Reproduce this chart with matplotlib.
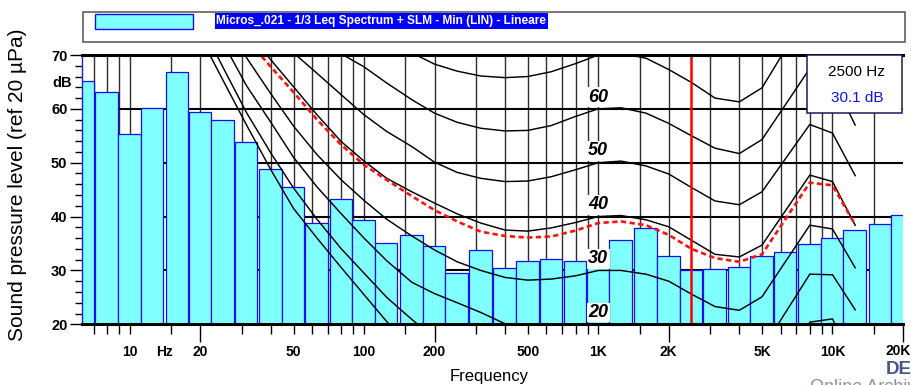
import matplotlib
matplotlib.use("Agg")
import matplotlib.pyplot as plt
from matplotlib.patches import Rectangle
from matplotlib import font_manager as fm

# ---------------- data ----------------
band_centers = [6.3, 8, 10, 12.5, 16, 20, 25, 31.5, 40, 50, 63, 80, 100, 125, 160,
                200, 250, 315, 400, 500, 630, 800, 1000, 1250, 1600, 2000, 2500,
                3150, 4000, 5000, 6300, 8000, 10000, 12500, 16000, 20000]
band_levels = [65.2, 63.2, 55.3, 60.2, 66.9, 59.5, 58.0, 53.9, 48.9, 45.4, 38.8, 43.3,
               39.4, 35.1, 36.5, 34.5, 29.5, 33.8, 30.4, 31.8, 32.1, 31.8, 32.0, 35.7,
               37.9, 32.7, 30.1, 30.3, 30.7, 32.6, 33.4, 35.0, 36.0, 37.6, 38.6, 40.3]

contour_freqs = [20, 25, 31.5, 40, 50, 63, 80, 100, 125, 160, 200, 250, 315, 400, 500,
                 630, 800, 1000, 1250, 1600, 2000, 2500, 3150, 4000, 5000, 8000, 10000, 12500]
phon_70 = [105, 100, 95, 90, 86, 82, 78.5, 75.5, 72.8, 70.4, 68.3, 67.0, 66.1, 65.8, 66.0,
           66.9, 68.4, 70.0, 70.3, 69.4, 67.3, 64.9, 62.0, 61.3, 63.9, 78.5, 77.0, 68.0]
phon_60 = [93, 89, 85, 81, 77, 73.5, 70.2, 67.8, 64.8, 61.7, 59.2, 57.5, 56.4, 55.9, 56.0,
           56.9, 58.6, 60.0, 60.2, 59.2, 57.3, 55.0, 52.7, 51.7, 54.3, 67.5, 65.5, 57.0]
phon_50 = [87, 83, 79, 74.5, 70.4, 66.6, 62.6, 58.9, 55.8, 53.0, 50.1, 48.2, 47.1, 46.5, 46.6,
           47.4, 48.7, 50.0, 50.3, 49.4, 47.9, 45.4, 42.9, 42.2, 44.6, 57.1, 55.5, 47.6]
phon_40 = [83, 79, 74.5, 69.1, 64.1, 58.9, 53.9, 50.3, 47.1, 44.6, 42.5, 40.5, 38.8, 37.5, 37.3,
           37.9, 38.9, 40.0, 40.2, 39.4, 38.1, 35.6, 33.0, 32.5, 34.7, 47.7, 46.5, 38.4]
phon_30 = [83, 76.5, 69.5, 62.8, 56.8, 51.5, 46.8, 43.0, 39.5, 36.4, 33.8, 31.6, 30.0, 28.7, 28.2,
           28.4, 29.0, 30.0, 30.0, 29.3, 28.0, 25.6, 23.3, 22.6, 25.1, 38.4, 37.7, 30.5]
phon_20 = [80, 72.3, 64.3, 57.5, 51.0, 45.5, 40.5, 36.0, 31.8, 27.8, 25.7, 24.0, 22.2, 20.1, 19.5,
           19.3, 19.5, 20.0, 20.0, 19.4, 18.0, 15.8, 13.5, 12.8, 15.3, 29.3, 29.2, 22.7]
phon_10 = [76, 67.7, 59.3, 51.8, 45.3, 39.5, 34.0, 29.5, 25.0, 20.9, 17.5, 14.5, 12.5, 10.8, 10.0,
           9.8, 9.8, 10.0, 10.0, 9.5, 8.0, 5.8, 3.5, 2.8, 5.3, 20.4, 21.0, 12.4]
phon_0 = [73.4, 65.3, 57.0, 48.7, 41.5, 36.0, 30.5, 25.5, 20.5, 16.0, 12.5, 9.5, 7.0, 5.0, 3.5,
          2.5, 1.5, 0.0, 0.0, -1.0, -2.0, -4.0, -6.0, -6.5, -4.0, 11.0, 12.0, 5.0]
level_red = [82, 77.5, 73.0, 67.8, 63.1, 58.0, 53.3, 49.6, 46.8, 43.8, 41.2, 39.1, 37.2, 36.4, 36.1,
             36.3, 37.4, 38.8, 39.1, 38.4, 36.6, 34.0, 32.3, 31.6, 33.0, 46.3, 45.8, 38.5]

contour_label_values = [60, 50, 40, 30, 20]
grid_freqs = [7, 8, 9, 10, 15, 20, 30, 40, 50, 60, 70, 80, 90, 100, 150, 200, 300, 400, 500,
              600, 700, 800, 900, 1000, 1500, 2000, 3000, 4000, 5000, 6000, 7000, 8000, 9000,
              10000, 15000]
long_tick_freqs = [20, 200, 2000, 20000]
xlabel_freqs = [10, 20, 50, 100, 200, 500, 1000, 2000, 5000, 10000]
xlabel_texts = ["10", "20", "50", "100", "200", "500", "1K", "2K", "5K", "10K"]
last_xlabel = "20K"
y_major = [20, 30, 40, 50, 60, 70]
cursor_freq = 2500
cursor_level = 30.1
legend_text = "Micros_.021 - 1/3 Leq Spectrum + SLM - Min (LIN) - Lineare"

# ---------------- fonts ----------------
names = {f.name for f in fm.fontManager.ttflist}
NARROW = "Liberation Sans Narrow" in names
narrow_fam = ["Liberation Sans Narrow", "Liberation Sans", "DejaVu Sans"] if NARROW else ["Liberation Sans", "DejaVu Sans"]
reg_fam = ["Liberation Sans", "DejaVu Sans"]

W, H = 912, 385
AX_L, AX_R, AX_T, AX_B = 82, 903, 55, 324.3

fig = plt.figure(figsize=(W / 100, H / 100), dpi=100)
ax = fig.add_axes([AX_L / W, 1 - AX_B / H, (AX_R - AX_L) / W, (AX_B - AX_T) / H])
ax.set_xscale("log")
ax.set_xlim(6.25, 20000)
ax.set_ylim(20, 70)


def axx(px):
    return (px - AX_L) / (AX_R - AX_L)


def axy(py):
    return (AX_B - py) / (AX_B - AX_T)


# grid
ax.vlines(grid_freqs, 20, 70, colors="#2e2e2e", linewidth=1.0, zorder=1)
ax.hlines([30, 40, 50, 60], 6.25, 20000, colors="black", linewidth=1.5, zorder=1)

# bars (1/3 octave bands)
gap = 10 ** (-1.0 / 234.2)
for fc, lv in zip(band_centers, band_levels):
    lo = fc * 2 ** (-1 / 6)
    hi = fc * 2 ** (1 / 6) * gap
    ax.bar(lo, lv - 20, width=hi - lo, bottom=20, align="edge",
           color="#80FFFF", edgecolor="#1010F0", linewidth=0.9, zorder=2)

# equal loudness contours
for vals in [phon_70, phon_60, phon_50, phon_40, phon_30, phon_20, phon_10, phon_0]:
    ax.plot(contour_freqs, vals, color="black", linewidth=1.05, zorder=3,
            solid_joinstyle="miter")
ax.plot(contour_freqs, level_red, color="#FF1010", linewidth=1.9, dashes=(2.0, 1.3), zorder=4)

# cursor
ax.axvline(cursor_freq, color="#FF0000", linewidth=1.8, zorder=5)

# contour labels
for v in contour_label_values:
    ax.text(1000, v + 2.2, str(v), ha="center", va="center", fontsize=13,
            fontweight="bold", fontstyle="italic", family=reg_fam, zorder=6,
            bbox=dict(facecolor="white", edgecolor="none", pad=1.0))

# spines
for s in ["top", "bottom"]:
    ax.spines[s].set_linewidth(2.2)
    ax.spines[s].set_color("black")
    ax.spines[s].set_zorder(7)
ax.spines["right"].set_visible(False)
ax.spines["left"].set_linewidth(1.0)
ax.spines["left"].set_color("#2020c0")

tick_fs = 12 if NARROW else 10.5

# y ticks
ax.set_yticks(y_major)
ax.set_yticks(list(range(22, 70, 2)), minor=True)
ax.set_yticklabels([str(v) for v in y_major], fontsize=tick_fs, fontweight="bold", family=narrow_fam)
ax.tick_params(axis="y", which="major", length=9, width=1, pad=1.5, color="black")
ax.tick_params(axis="y", which="minor", length=5, width=1, color="black")
ax.text(axx(71.5), 64.8, "dB", transform=ax.get_yaxis_transform(), ha="right", va="center",
        fontsize=tick_fs, fontweight="bold", family=narrow_fam)

# x ticks
ax.set_xticks(long_tick_freqs)
ax.set_xticks([f for f in grid_freqs if f not in long_tick_freqs], minor=True)
ax.set_xticklabels([])
ax.set_xticklabels([], minor=True)
ax.tick_params(axis="x", which="major", length=13, width=1, color="black")
ax.tick_params(axis="x", which="minor", length=7, width=1, color="black")
xt = ax.get_xaxis_transform()
xfs = 11 if NARROW else 10
for f, t in zip(xlabel_freqs, xlabel_texts):
    ax.text(f, axy(352), t, transform=xt, ha="center", va="center",
            fontsize=xfs, fontweight="bold", family=narrow_fam)
ax.text(14.05, axy(352), "Hz", transform=xt, ha="center", va="center",
        fontsize=xfs, fontweight="bold", family=narrow_fam)
ax.text(axx(910.5), axy(351), last_xlabel, transform=ax.transAxes, ha="right", va="center",
        fontsize=xfs, fontweight="bold", family=narrow_fam, clip_on=False)

# axis titles
fig.text(18 / W, 1 - 185 / H, "Sound pressure level (ref 20 \u00b5Pa)", rotation=90,
         ha="center", va="center", fontsize=15, family=reg_fam)
fig.text(489 / W, 1 - 377 / H, "Frequency", ha="center", va="center",
         fontsize=13.5 if NARROW else 12, family=narrow_fam)

# legend box
ax.add_patch(Rectangle((axx(83), axy(42)), axx(905) - axx(83), axy(12) - axy(42),
                       transform=ax.transAxes, facecolor="white", edgecolor="#606060",
                       linewidth=1.2, clip_on=False, zorder=8))
ax.add_patch(Rectangle((axx(95), axy(29)), axx(193) - axx(95), axy(14) - axy(29),
                       transform=ax.transAxes, facecolor="#80FFFF", edgecolor="#1010F0",
                       linewidth=1.0, clip_on=False, zorder=9))
ax.add_patch(Rectangle((axx(215), axy(29)), axx(548) - axx(215), axy(12.5) - axy(29),
                       transform=ax.transAxes, facecolor="#0000FF", edgecolor="none",
                       clip_on=False, zorder=9))
ax.text(axx(216), axy(21), legend_text, transform=ax.transAxes, ha="left", va="center",
        color="white", fontsize=9 if NARROW else 8.6, fontweight="bold", family=narrow_fam,
        clip_on=False, zorder=10)

# cursor readout box
ax.add_patch(Rectangle((axx(807), axy(113)), axx(902) - axx(807), axy(55) - axy(113),
                       transform=ax.transAxes, facecolor="white", edgecolor="#1a1a60",
                       linewidth=1.1, clip_on=False, zorder=8))
ax.text(axx(856), axy(72.5), "%d Hz" % cursor_freq, transform=ax.transAxes, ha="center",
        va="center", fontsize=11, family=reg_fam, color="black", zorder=9)
ax.text(axx(857), axy(97.5), "%.1f dB" % cursor_level, transform=ax.transAxes, ha="center",
        va="center", fontsize=11, family=reg_fam, color="#1010F0", zorder=9)

# watermark fragments
fig.text(886 / W, 1 - 369 / H, "DE", ha="left", va="center", fontsize=13.5,
         fontweight="bold", family=reg_fam, color="#4a5585")
fig.text(810 / W, 1 - 379.5 / H, "Online Archiv", ha="left", va="top", fontsize=13,
         family=reg_fam, color="#8a90a8")

fig.savefig("out.png", dpi=100)
